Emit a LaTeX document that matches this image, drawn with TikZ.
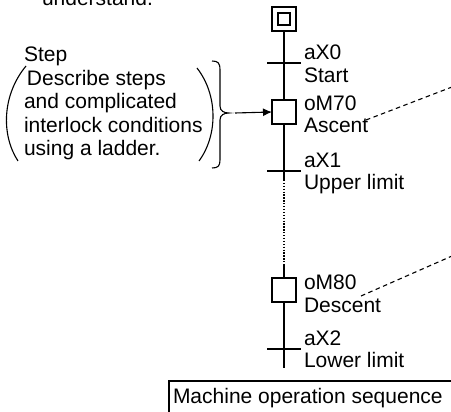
\documentclass[tikz,border=0pt]{standalone}
\usepackage{fontspec}
\setmainfont{Liberation Sans}
\usetikzlibrary{arrows.meta}
\begin{document}
\begin{tikzpicture}[x=1pt,y=-1pt,
  every node/.style={font=\fontsize{21}{23.5}\selectfont, inner sep=0pt, outer sep=0pt},
  txt/.style={anchor=base west},
  stepbox/.style={draw, line width=1.4pt, minimum size=24pt},
  innerbox/.style={draw, line width=1.4pt, minimum size=12pt},
  mainline/.style={line width=1.8pt},
  bar/.style={line width=1.7pt},
  thin/.style={line width=1.1pt},
  dotline/.style={line width=1.3pt, dash pattern=on 1.3pt off 1.6pt},
  dashline/.style={line width=1.1pt, dash pattern=on 4.5pt off 3.5pt}
]
\useasboundingbox (0,0) rectangle (451,412);
\clip (0,0) rectangle (451,412);

% clipped heading
\node[txt] (head) at (42,6) {understand.};

% chart nodes
\node[stepbox] (init) at (284,19) {};
\node[innerbox] (initin) at (284,19) {};
\coordinate (t0) at (284,63);
\node[stepbox] (s70) at (284,112) {};
\coordinate (t1) at (284,171);
\coordinate (dotA) at (284,180);
\coordinate (dotB) at (284,265);
\node[stepbox] (s80) at (284,290) {};
\coordinate (t2) at (284,349);
\coordinate (endl) at (284,368);

% vertical connections
\draw[mainline] (init) -- (s70);
\draw[mainline] (s70) -- (dotA);
\draw[dotline] (dotA) -- (dotB);
\draw[mainline] (dotB) -- (s80);
\draw[mainline] (s80) -- (endl);

% transition bars
\foreach \t in {t0,t1,t2}
  \draw[bar] ([xshift=-17pt]\t) -- ([xshift=17pt]\t);

% labels
\node[txt] (l0a) at (304,60) {aX0};
\node[txt] (l0b) at (304,83) {Start};
\node[txt] (l1a) at (304,111) {oM70};
\node[txt] (l1b) at (304,133) {Ascent};
\node[txt] (l2a) at (304,168) {aX1};
\node[txt] (l2b) at (304,190) {Upper limit};
\node[txt] (l3a) at (304,290) {oM80};
\node[txt] (l3b) at (304,313) {Descent};
\node[txt] (l4a) at (304,346) {aX2};
\node[txt] (l4b) at (304,368) {Lower limit};

% dashed leaders
\coordinate (d1s) at (366,120);
\coordinate (d1e) at (452,87);
\coordinate (d2s) at (361,296);
\coordinate (d2e) at (452,256);
\draw[dashline] (d1s) -- (d1e);
\draw[dashline] (d2s) -- (d2e);

% left explanation
\node[txt] (c0) at (24,62) {Step};
\node[txt] (c1) at (27,86) {Describe steps};
\node[txt] (c2) at (24,109) {and complicated};
\node[txt] (c3) at (24,133) {interlock conditions};
\node[txt] (c4) at (24,156) {using a ladder.};

% parentheses
\draw[thin] (26,66) .. controls (2,95) and (1,135) .. (18,161);
\draw[thin] (197,68) .. controls (218,95) and (218,135) .. (199,161);

% brace
\draw[thin] (212,61) .. controls (218,61) and (220,63) .. (220,70) -- (220,106)
  .. controls (220,111) and (224,113) .. (229,113)
  .. controls (224,113) and (220,115) .. (220,120) -- (220,160)
  .. controls (220,166) and (218,168) .. (212,168);
\coordinate (arrs) at (235,113);
\draw[thin, -{Latex[length=9pt,width=8pt]}] (arrs) -- (s70.west);

% bottom caption box
\node[txt] (cap) at (173,404) {Machine operation sequence};
\draw[line width=1.1pt] (169,420) -- (169,381) -- (460,381);
\end{tikzpicture}
\end{document}
